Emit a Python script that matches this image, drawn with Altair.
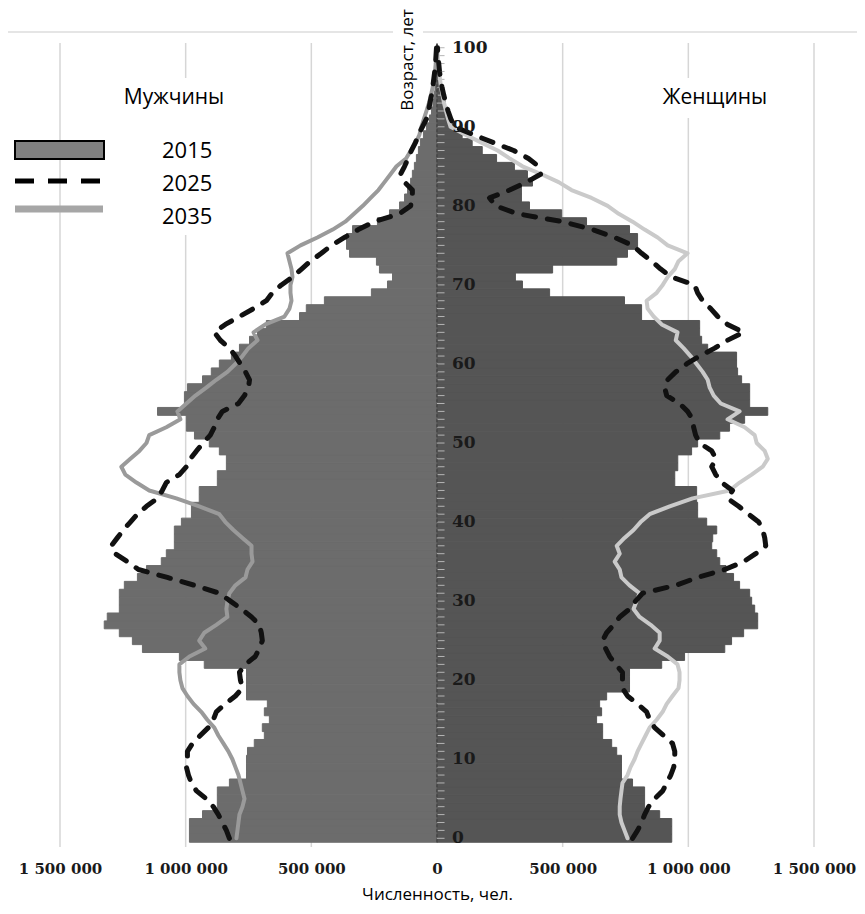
import altair as alt
import pandas as pd

AGES = list(range(0, 101))
AGE_TICKS = list(range(0, 101, 10))
X_TICKS = [-1500000, -1000000, -500000, 0, 500000, 1000000, 1500000]
GRID_VALUES = [-1500000, -1000000, -500000, 500000, 1000000, 1500000]
LEGEND_LABELS = ["2015", "2025", "2035"]
SEX_LABELS = ["Мужчины", "Женщины"]

# population, thousands, ages 0..100
MALE_2015 = [985, 985, 985, 933, 874, 874, 874, 826, 758, 758,
             758, 754, 727, 687, 695, 667, 687, 675, 758, 758,
             758, 758, 926, 1025, 1172, 1212, 1264, 1324, 1312, 1264,
             1264, 1264, 1244, 1192, 1156, 1097, 1077, 1045, 1045, 1045,
             1017, 977, 977, 946, 946, 874, 874, 838, 838, 866,
             906, 965, 997, 997, 1112, 1005, 1005, 993, 933, 898,
             866, 818, 786, 746, 714, 679, 547, 520, 448, 261,
             197, 177, 229, 241, 348, 360, 360, 336, 237, 189,
             149, 129, 117, 105, 98, 90, 82, 74, 66, 54,
             42, 30, 22, 16, 11, 8, 5, 3, 2, 1,
             1]
FEMALE_2015 = [934, 934, 934, 886, 826, 826, 826, 778, 734, 734,
               734, 715, 695, 659, 659, 635, 655, 647, 675, 766,
               766, 766, 894, 985, 1145, 1172, 1220, 1276, 1276, 1264,
               1252, 1244, 1204, 1180, 1150, 1125, 1113, 1093, 1097, 1113,
               1073, 1037, 1037, 1033, 1033, 946, 946, 958, 958, 1013,
               1037, 1125, 1164, 1224, 1316, 1244, 1244, 1244, 1212, 1196,
               1192, 1192, 1077, 1053, 1045, 1045, 814, 814, 746, 448,
               340, 312, 460, 715, 758, 798, 798, 766, 595, 496,
               368, 336, 336, 380, 360, 308, 237, 180, 140, 100,
               72, 56, 44, 33, 24, 17, 11, 7, 4, 2,
               1]
MALE_2025 = [826, 838, 854, 870, 890, 918, 957, 977, 989, 997,
             993, 993, 973, 942, 910, 890, 878, 842, 802, 774,
             782, 786, 762, 723, 707, 695, 699, 707, 738, 778,
             822, 866, 965, 1073, 1188, 1232, 1280, 1296, 1272, 1248,
             1220, 1192, 1156, 1112, 1093, 1077, 1025, 997, 981, 957,
             930, 902, 886, 874, 854, 790, 766, 750, 746, 762,
             782, 802, 826, 862, 886, 842, 786, 730, 679, 655,
             619, 575, 539, 504, 460, 420, 368, 313, 249, 149,
             105, 98, 98, 129, 145, 129, 115, 102, 86, 74,
             58, 42, 34, 28, 22, 17, 13, 9, 6, 4,
             2]
FEMALE_2025 = [778, 798, 814, 826, 842, 866, 898, 914, 930, 942,
               946, 946, 937, 902, 866, 846, 834, 798, 758, 738,
               738, 738, 711, 687, 671, 659, 675, 703, 727, 766,
               790, 818, 950, 1037, 1145, 1220, 1268, 1308, 1304, 1296,
               1280, 1240, 1200, 1156, 1176, 1133, 1109, 1093, 1110, 1093,
               1045, 1029, 1021, 1017, 997, 965, 914, 906, 918, 950,
               993, 1045, 1105, 1156, 1220, 1156, 1117, 1089, 1057, 1037,
               1025, 933, 890, 854, 814, 778, 707, 619, 500, 320,
               233, 209, 289, 356, 412, 404, 364, 305, 225, 145,
               70, 55, 44, 35, 27, 20, 14, 10, 7, 4,
               2]
MALE_2035 = [798, 794, 790, 786, 774, 766, 774, 782, 790, 802,
             814, 830, 850, 870, 886, 914, 938, 969, 993, 1013,
             1021, 1025, 1025, 985, 922, 946, 926, 878, 834, 838,
             834, 826, 802, 762, 754, 734, 738, 738, 774, 810,
             842, 866, 946, 1037, 1145, 1196, 1240, 1256, 1220, 1184,
             1156, 1145, 1077, 1021, 1033, 997, 961, 918, 878, 834,
             802, 774, 750, 714, 730, 683, 607, 587, 579, 583,
             583, 575, 579, 587, 595, 543, 476, 415, 365, 330,
             295, 264, 233, 209, 185, 161, 123, 104, 84, 70,
             62, 52, 42, 32, 24, 17, 12, 8, 5, 3,
             1]
FEMALE_2035 = [758, 746, 734, 727, 727, 730, 734, 738, 758, 770,
               786, 798, 814, 830, 846, 874, 898, 914, 937, 961,
               965, 965, 957, 918, 866, 886, 886, 850, 806, 782,
               794, 806, 766, 734, 727, 707, 727, 715, 746, 782,
               810, 846, 926, 1017, 1164, 1204, 1252, 1296, 1316, 1304,
               1272, 1264, 1224, 1156, 1204, 1129, 1101, 1085, 1077, 1057,
               1033, 1009, 981, 950, 957, 894, 862, 838, 834, 874,
               898, 918, 946, 961, 997, 918, 878, 826, 778, 723,
               679, 615, 535, 484, 416, 340, 289, 241, 177, 113,
               54, 44, 36, 28, 22, 16, 12, 8, 5, 3,
               1]

# ---- tables built from the arrays ----
bar_rows = []
for sex, sign, vals in [("m", -1, MALE_2015), ("f", 1, FEMALE_2015)]:
    for a, v in zip(AGES, vals):
        bar_rows.append({"age": a, "lo": a - 0.5, "hi": a + 0.5,
                         "val": sign * v * 1000, "zero": 0, "sex": sex})
bars_df = pd.DataFrame(bar_rows)

line_rows = []
for year, sex, sign, vals in [("2025", "m", -1, MALE_2025), ("2025", "f", 1, FEMALE_2025),
                              ("2035", "m", -1, MALE_2035), ("2035", "f", 1, FEMALE_2035)]:
    for a, v in zip(AGES, vals):
        line_rows.append({"age": a, "val": sign * v * 1000, "sex": sex, "year": year})
lines_df = pd.DataFrame(line_rows)

ticks_df = pd.DataFrame({"age": AGES})
ticks_df["x0"] = 0
ticks_df["x1"] = 30000
axis_df = pd.DataFrame({"x0": [0], "y0": [AGES[0] - 0.5], "y1": [AGES[-1] + 0.5]})
labels_df = pd.DataFrame({"age": AGE_TICKS})
labels_df["x0"] = 0

W, H = 754, 804
xs = alt.Scale(domain=[-1500000, 1500000], nice=False, zero=False)
ys = alt.Scale(domain=[-1.1, 100.6], nice=False, zero=False)

NUM_FONT = "DejaVu Serif"
TXT_FONT = "Open Sans"

label_expr = "replace(replace(format(abs(datum.value), ','), ',', ' '), ',', ' ')"

X_AXIS = alt.Axis(
    values=X_TICKS, labelExpr=label_expr, grid=False, ticks=False, domain=False,
    labelFont=NUM_FONT, labelFontWeight="bold", labelFontSize=15, labelColor="#1a1a1a",
    labelPadding=14, labelFlush=False, labelOverlap=False,
    title="Численность, чел.", titleFont=TXT_FONT, titleFontSize=17,
    titleFontWeight="normal", titleColor="#000000", titleY=47, titleBaseline="middle")


def X(field):
    return alt.X(field, scale=xs, axis=X_AXIS)


def Y(field):
    return alt.Y(field, scale=ys, axis=None)


grid = alt.Chart(pd.DataFrame({"g": GRID_VALUES})).mark_rule(
    color="#d6d6d6", strokeWidth=1.5
).encode(x=X("g:Q"), y=alt.value(0), y2=alt.value(H))

one = pd.DataFrame({"k": [0]})

top_line = alt.Chart(one).mark_rule(color="#dcdcdc", strokeWidth=1.5).encode(
    x=alt.value(-52), x2=alt.value(797), y=alt.value(-11), y2=alt.value(-11))

white_boxes = [
    alt.Chart(one).mark_rect(fill="white").encode(
        x=alt.value(62), x2=alt.value(170), y=alt.value(35), y2=alt.value(192)),
    alt.Chart(one).mark_rect(fill="white").encode(
        x=alt.value(595), x2=alt.value(718), y=alt.value(35), y2=alt.value(75)),
    alt.Chart(one).mark_rect(fill="white").encode(
        x=alt.value(333), x2=alt.value(363), y=alt.value(-35), y2=alt.value(68)),
]

bars_m = alt.Chart(bars_df).transform_filter("datum.sex == 'm'").mark_rect(
    color="#6c6c6c", stroke="#6c6c6c", strokeWidth=1
).encode(x=X("val:Q"), x2="zero:Q", y=Y("lo:Q"), y2="hi:Q")

bars_f = alt.Chart(bars_df).transform_filter("datum.sex == 'f'").mark_rect(
    color="#555555", stroke="#555555", strokeWidth=1
).encode(x=X("val:Q"), x2="zero:Q", y=Y("lo:Q"), y2="hi:Q")

age_ticks = alt.Chart(ticks_df).mark_rule(color="#b5b5b5", strokeWidth=1).encode(
    x=X("x0:Q"), x2="x1:Q", y=Y("age:Q"))

axis_line = alt.Chart(axis_df).mark_rule(color="#444444", strokeWidth=1.5, strokeDash=[3, 2]).encode(
    x=X("x0:Q"), y=Y("y0:Q"), y2="y1:Q")

l35_m = alt.Chart(lines_df).transform_filter(
    "datum.year == '2035' && datum.sex == 'm'").mark_line(
    color="#9a9a9a", strokeWidth=4, strokeJoin="round", strokeCap="round"
).encode(x=X("val:Q"), y=Y("age:Q"), order=alt.Order("age:Q"))

l35_f = alt.Chart(lines_df).transform_filter(
    "datum.year == '2035' && datum.sex == 'f'").mark_line(
    color="#cacaca", strokeWidth=4, strokeJoin="round", strokeCap="round"
).encode(x=X("val:Q"), y=Y("age:Q"), order=alt.Order("age:Q"))

l25 = alt.Chart(lines_df).transform_filter("datum.year == '2025'").mark_line(
    color="#111111", strokeWidth=5, strokeDash=[12, 12], strokeCap="round", strokeJoin="round"
).encode(x=X("val:Q"), y=Y("age:Q"), detail="sex:N", order=alt.Order("age:Q"))

age_labels = alt.Chart(labels_df).mark_text(
    font=NUM_FONT, fontWeight="bold", fontSize=17, color="#1a1a1a",
    align="left", baseline="middle", dx=15
).encode(x=X("x0:Q"), y=Y("age:Q"), text="age:Q")

y_title = alt.Chart(one).mark_text(
    text="Возраст, лет", font=TXT_FONT, fontSize=17, angle=270,
    align="center", baseline="middle", color="#000000"
).encode(x=alt.value(348), y=alt.value(17))

sex_texts = [
    alt.Chart(one).mark_text(text=SEX_LABELS[0], font=TXT_FONT, fontSize=21,
                             align="center", baseline="middle", color="#000000"
                             ).encode(x=alt.value(114), y=alt.value(55)),
    alt.Chart(one).mark_text(text=SEX_LABELS[1], font=TXT_FONT, fontSize=21,
                             align="center", baseline="middle", color="#000000"
                             ).encode(x=alt.value(655), y=alt.value(55)),
]

legend = [
    alt.Chart(one).mark_rect(fill="#808080", stroke="#000000", strokeWidth=2).encode(
        x=alt.value(-45), x2=alt.value(44), y=alt.value(98), y2=alt.value(116)),
    alt.Chart(one).mark_rule(color="#000000", strokeWidth=5, strokeDash=[19, 14]).encode(
        x=alt.value(-45), x2=alt.value(41), y=alt.value(138), y2=alt.value(138)),
    alt.Chart(one).mark_rule(color="#a6a6a6", strokeWidth=7).encode(
        x=alt.value(-45), x2=alt.value(43), y=alt.value(166), y2=alt.value(166)),
]
for lab, yy in zip(LEGEND_LABELS, [108, 141, 174]):
    legend.append(alt.Chart(one).mark_text(
        text=lab, font=TXT_FONT, fontSize=22, align="left", baseline="middle", color="#000000"
    ).encode(x=alt.value(102), y=alt.value(yy)))

chart = alt.layer(
    grid, top_line, *white_boxes, bars_m, bars_f, age_ticks, axis_line,
    l35_m, l35_f, l25, age_labels, y_title, *sex_texts, *legend
).properties(
    width=W, height=H,
    padding={"left": 52, "top": 35, "right": 43, "bottom": 58},
    autosize=alt.AutoSizeParams(type="none"),
    background="white",
).configure_view(stroke=None)

chart.save("out.html", embed_options={"renderer": "svg", "actions": False})
